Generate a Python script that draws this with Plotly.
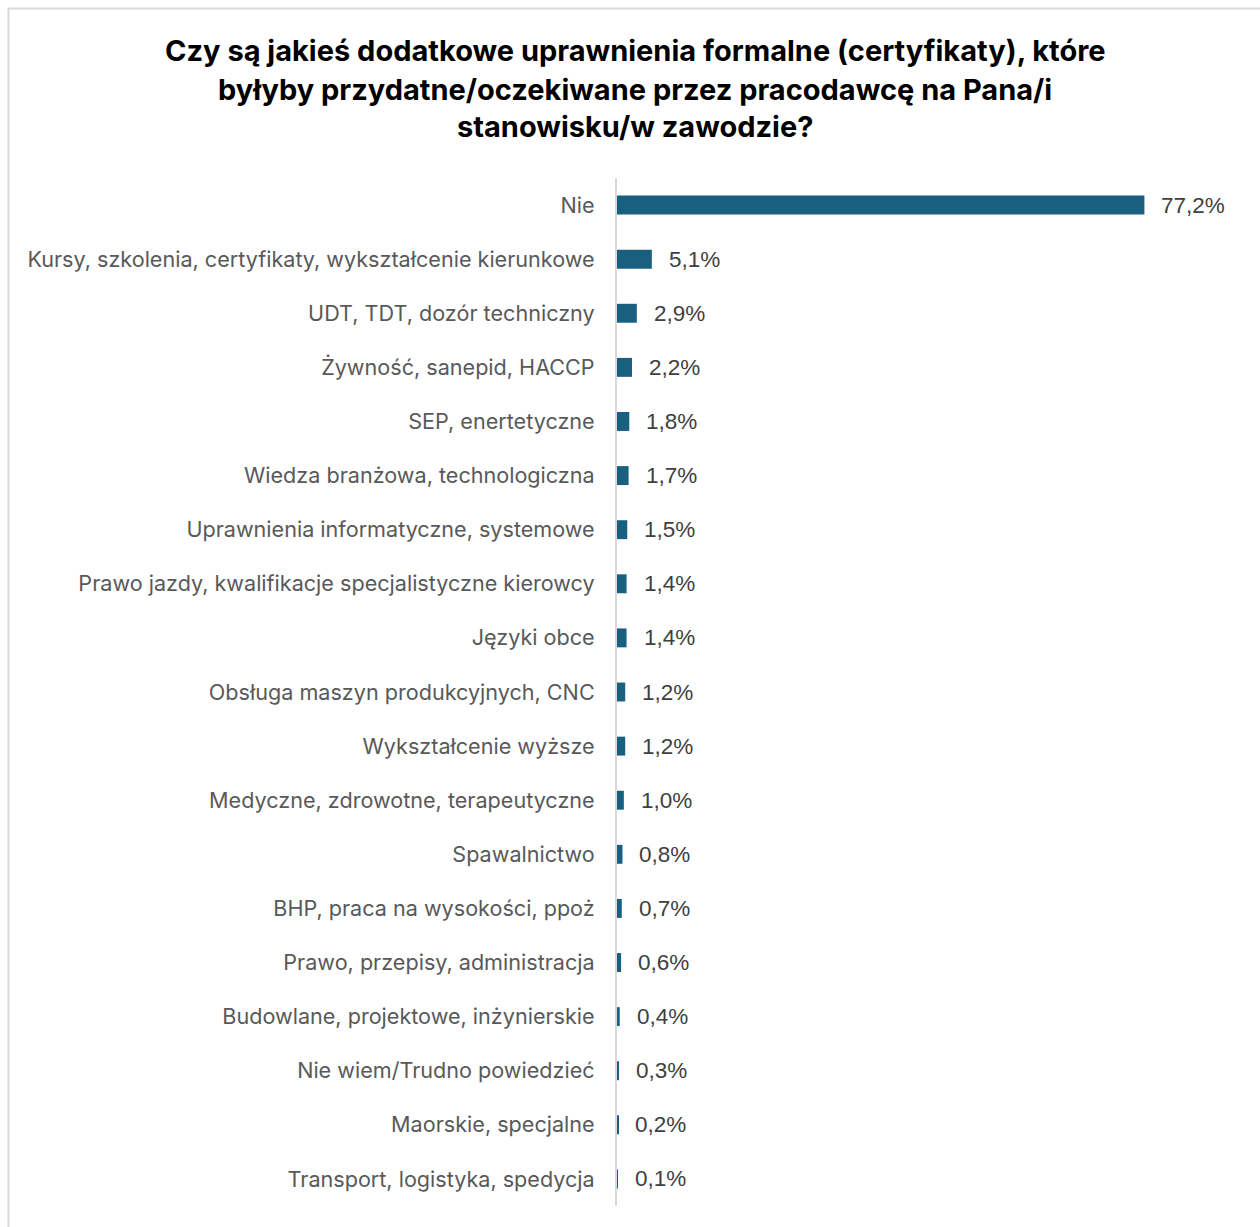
import plotly.graph_objects as go

categories = [
    "Nie",
    "Kursy, szkolenia, certyfikaty, wykształcenie kierunkowe",
    "UDT, TDT, dozór techniczny",
    "Żywność, sanepid, HACCP",
    "SEP, enertetyczne",
    "Wiedza branżowa, technologiczna",
    "Uprawnienia informatyczne, systemowe",
    "Prawo jazdy, kwalifikacje specjalistyczne kierowcy",
    "Języki obce",
    "Obsługa maszyn produkcyjnych, CNC",
    "Wykształcenie wyższe",
    "Medyczne, zdrowotne, terapeutyczne",
    "Spawalnictwo",
    "BHP, praca na wysokości, ppoż",
    "Prawo, przepisy, administracja",
    "Budowlane, projektowe, inżynierskie",
    "Nie wiem/Trudno powiedzieć",
    "Maorskie, specjalne",
    "Transport, logistyka, spedycja",
]
values = [77.2, 5.1, 2.9, 2.2, 1.8, 1.7, 1.5, 1.4, 1.4, 1.2, 1.2, 1.0, 0.8, 0.7, 0.6, 0.4, 0.3, 0.2, 0.1]

title_lines = [
    "Czy są jakieś dodatkowe uprawnienia formalne (certyfikaty), które",
    "byłyby przydatne/oczekiwane przez pracodawcę na Pana/i",
    "stanowisku/w zawodzie?",
]

BAR_COLOR = "#195f80"
W, H = 1260, 1227
ML, MR, MT, MB = 617, 50, 178, 21
PW, PH = W - ML - MR, H - MT - MB


def px_to_paper_x(px):
    return (px - ML) / PW


def px_to_paper_y(py):
    return (H - MB - py) / PH


fig = go.Figure(
    go.Bar(
        x=values,
        y=categories,
        orientation="h",
        marker=dict(color=BAR_COLOR, line=dict(width=0)),
        width=0.35,
        hoverinfo="skip",
    )
)

annotations = []
# value labels to the right of each bar
for cat, v in zip(categories, values):
    annotations.append(dict(
        x=v, y=cat, xref="x", yref="y",
        text=f"{v:.1f}".replace(".", ",") + "%",
        showarrow=False, xanchor="left", yanchor="middle", xshift=15,
        font=dict(family="Liberation Sans, Arial, sans-serif", size=22.5, color="#404040"),
    ))

# three-line bold title
for line, py in zip(title_lines, [50, 89, 127]):
    annotations.append(dict(
        x=px_to_paper_x(635), y=px_to_paper_y(py), xref="paper", yref="paper",
        text=f"<b>{line}</b>", showarrow=False, xanchor="center", yanchor="middle",
        font=dict(family="Inter, sans-serif", size=29, color="#000000"),
    ))

fig.update_layout(
    width=W, height=H,
    margin=dict(l=ML, r=MR, t=MT, b=MB),
    paper_bgcolor="white", plot_bgcolor="white",
    showlegend=False,
    annotations=annotations,
    shapes=[dict(
        type="rect", xref="paper", yref="paper",
        x0=px_to_paper_x(8.5), x1=px_to_paper_x(1275),
        y0=px_to_paper_y(1240), y1=px_to_paper_y(8.5),
        line=dict(color="#d9d9d9", width=2), fillcolor="rgba(0,0,0,0)",
        layer="below",
    )],
    xaxis=dict(range=[0, 86.8], visible=False, showgrid=False, zeroline=False),
    yaxis=dict(
        categoryorder="array", categoryarray=categories,
        range=[len(categories) - 0.5, -0.5],
        showline=True, linecolor="#d9d9d9", linewidth=2,
        showgrid=False, zeroline=False, ticks="",
        ticklabelstandoff=16,
        tickfont=dict(family="Inter, sans-serif", size=21.6, color="#595959"),
    ),
)

fig.write_html("out.html")
